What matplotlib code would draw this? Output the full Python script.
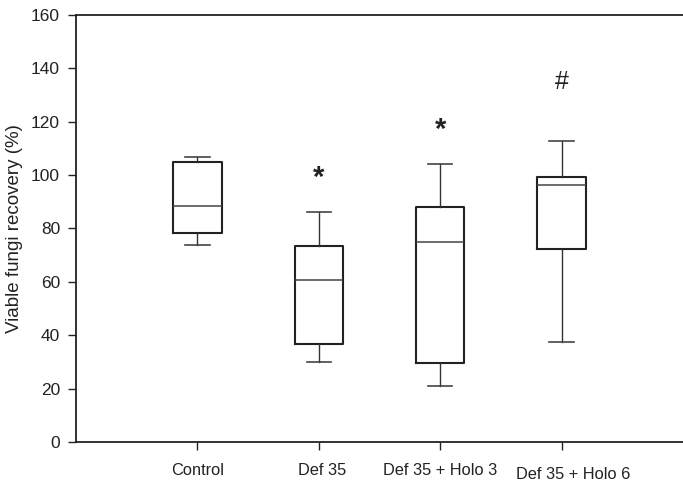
import matplotlib
matplotlib.use("Agg")
import matplotlib.pyplot as plt
from matplotlib.transforms import ScaledTranslation

plt.rcParams['font.family'] = ['Liberation Sans', 'DejaVu Sans']

categories = ["Control", "Def 35", "Def 35 + Holo 3", "Def 35 + Holo 6"]
whislo = [73.9, 30.0, 20.9, 37.5]
q1 = [78.2, 36.6, 29.5, 72.2]
med = [88.3, 60.8, 74.9, 96.2]
q3 = [104.9, 73.4, 87.9, 99.3]
whishi = [106.7, 86.1, 104.3, 112.7]
marks = ["", "*", "*", "#"]
mark_y = [None, 100, 118, 135]

fig = plt.figure(figsize=(6.83, 4.91), dpi=100)
ax = fig.add_axes([76/683, 1 - 442/491, 1 - 76/683, (442 - 15)/491])

stats = []
for i, c in enumerate(categories):
    stats.append(dict(label=c, whislo=whislo[i], q1=q1[i], med=med[i],
                      q3=q3[i], whishi=whishi[i], fliers=[]))
pos = list(range(1, len(categories) + 1))
ax.bxp(stats, positions=pos, widths=0.4, showfliers=False,
       boxprops=dict(color='#222222', linewidth=1.5),
       whiskerprops=dict(color='#333333', linewidth=1.0),
       capprops=dict(color='#444444', linewidth=1.2),
       medianprops=dict(color='#444444', linewidth=1.1))

for i, m in enumerate(marks):
    if m == '*':
        ax.text(pos[i], mark_y[i], m, ha='center', va='center_baseline',
                fontsize=21, fontweight='bold', color='#222222')
    elif m:
        ax.text(pos[i], mark_y[i], m, ha='center', va='center',
                fontsize=18, color='#222222')

ax.set_xlim(0, 5)
ax.set_ylim(0, 160)
ax.set_yticks(range(0, 161, 20))
ax.set_xticks(pos)
ax.set_xticklabels(categories)
ax.tick_params(axis='x', direction='out', length=6, width=1, pad=9,
               labelsize=11.8, colors='#222222')
ax.tick_params(axis='y', direction='out', length=6, width=1, pad=5.5,
               labelsize=12.5, colors='#222222')
ax.set_ylabel("Viable fungi recovery (%)", fontsize=13.5, color='#222222', labelpad=6)
for s in ['left', 'bottom', 'top']:
    ax.spines[s].set_linewidth(1.3)
    ax.spines[s].set_color('#222222')
ax.spines['right'].set_visible(False)

# small label offsets as in the reference
offsets = [(0, 0), (3, 0), (0, 0), (12, -4)]
for lab, (dx, dy) in zip(ax.get_xticklabels(), offsets):
    lab.set_transform(lab.get_transform() + ScaledTranslation(dx / 100, dy / 100, fig.dpi_scale_trans))

fig.savefig("out.png", dpi=100)
